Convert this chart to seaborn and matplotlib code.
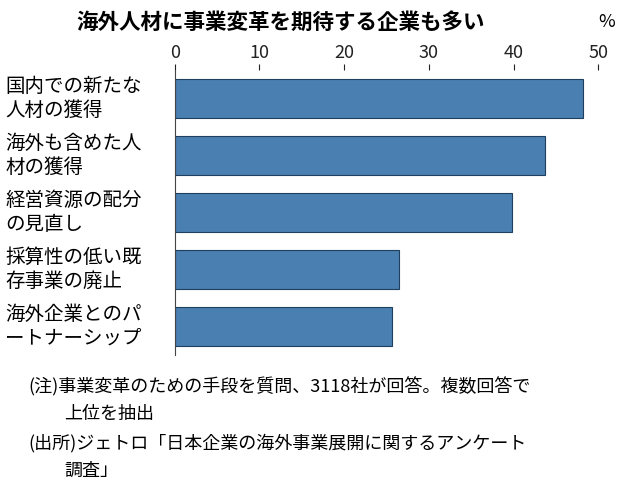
import matplotlib.pyplot as plt
import seaborn as sns
import pandas as pd

plt.rcParams['font.family'] = 'Noto Sans CJK JP'

categories = ['国内での新たな\n人材の獲得', '海外も含めた人\n材の獲得', '経営資源の配分\nの見直し',
              '採算性の低い既\n存事業の廃止', '海外企業とのパ\nートナーシップ']
values = [48.2, 43.7, 39.8, 26.5, 25.6]
ticks = [0, 10, 20, 30, 40, 50]

df = pd.DataFrame({'cat': categories, 'val': values})

fig = plt.figure(figsize=(6.4, 4.9), dpi=100)
ax = fig.add_axes([0.273, 0.276, 0.682, 0.581])
sns.barplot(data=df, x='val', y='cat', color='#4a7fb1', saturation=1,
            edgecolor='#1f3f5f', linewidth=0.8, width=0.68, ax=ax)
ax.set_xlim(0, 51.5)
ax.set_xticks(ticks)
ax.xaxis.tick_top()
ax.tick_params(axis='x', labelsize=13, length=4, colors='#222222', pad=2)
ax.tick_params(axis='y', length=0, labelleft=False)
for i, c in enumerate(categories):
    ax.text(-0.265 / 0.682, i, c, transform=ax.get_yaxis_transform(),
            ha='left', va='center', fontsize=14, linespacing=1.15)
ax.set_xlabel('')
ax.set_ylabel('')
for s in ['right', 'bottom', 'top']:
    ax.spines[s].set_visible(False)
ax.spines['left'].set_color('#444444')

fig.text(0.12, 0.955, '海外人材に事業変革を期待する企業も多い', fontsize=15.5, fontweight='bold', va='center')
fig.text(0.935, 0.955, '%', fontsize=13, va='center')
fig.text(0.045, 0.21, '(注)事業変革のための手段を質問、3118社が回答。複数回答で', fontsize=13, va='center')
fig.text(0.1, 0.155, '上位を抽出', fontsize=13, va='center')
fig.text(0.045, 0.095, '(出所)ジェトロ「日本企業の海外事業展開に関するアンケート', fontsize=13, va='center')
fig.text(0.1, 0.04, '調査」', fontsize=13, va='center')

fig.savefig('out.png', dpi=100)
